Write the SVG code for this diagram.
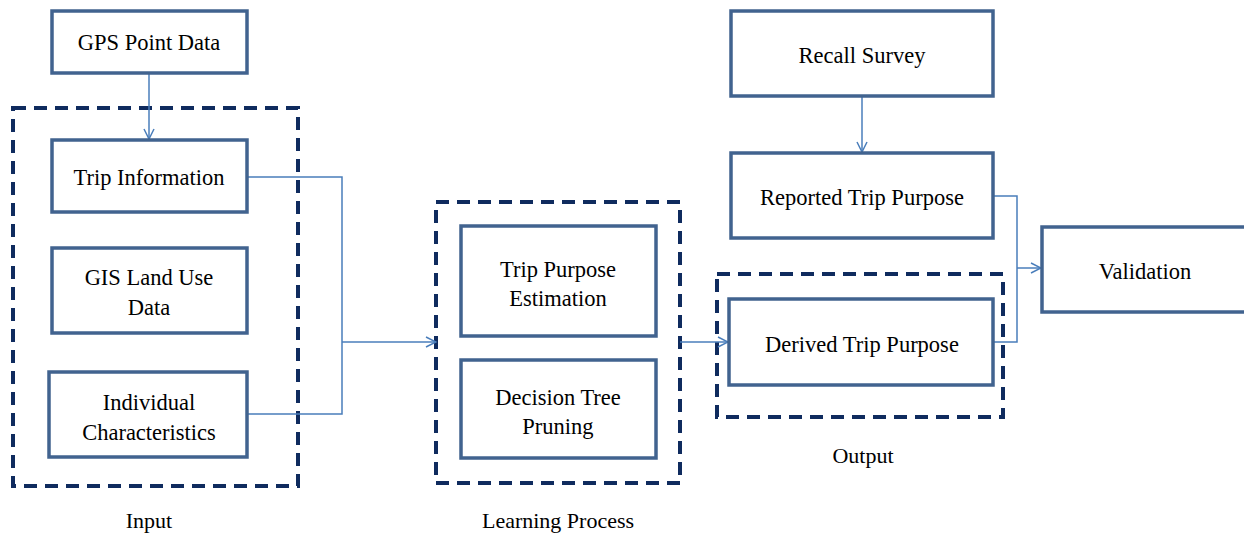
<svg xmlns="http://www.w3.org/2000/svg" width="1244" height="536" viewBox="0 0 1244 536">
<defs>
<marker id="arr" markerWidth="12" markerHeight="12" refX="11" refY="6" orient="auto" markerUnits="userSpaceOnUse">
<path d="M1,1 L11,6 L1,11" fill="none" stroke="#4a7ebb" stroke-width="1.5"/>
</marker>
<style>
.node{fill:#fff;stroke:#41638f;stroke-width:3.5}
.grp{fill:none;stroke:#0f2b5e;stroke-width:4;stroke-dasharray:13 8}
.conn{fill:none;stroke:#4a7ebb;stroke-width:1.5}
text{font-family:"Liberation Serif","Times New Roman",serif;font-size:22.5px;fill:#000;text-anchor:middle}
.lbl{font-size:22px}
</style>
</defs>
<rect width="1244" height="536" fill="#fff"/>
<g id="group-input">
<rect class="grp" x="13" y="108" width="285" height="378"/>
<text class="lbl" x="149" y="528">Input</text>
</g>
<g id="group-learning">
<rect class="grp" x="436" y="202" width="244" height="281"/>
<text class="lbl" x="558" y="528">Learning Process</text>
</g>
<g id="group-output">
<rect class="grp" x="717" y="274" width="286" height="143"/>
<text class="lbl" x="863" y="463">Output</text>
</g>
<g id="connectors">
<path class="conn" d="M149,73 V139" marker-end="url(#arr)"/>
<path class="conn" d="M247,177 H342 V414 H247"/>
<path class="conn" d="M342,342 H436" marker-end="url(#arr)"/>
<path class="conn" d="M680,342 H728" marker-end="url(#arr)"/>
<path class="conn" d="M862,96 V152" marker-end="url(#arr)"/>
<path class="conn" d="M993,196 H1017 V342 H993"/>
<path class="conn" d="M1017,268 H1041" marker-end="url(#arr)"/>
</g>
<g id="gps">
<rect class="node" x="52" y="11" width="195" height="62"/>
<text x="149" y="50">GPS Point Data</text>
</g>
<g id="trip-info">
<rect class="node" x="52" y="140" width="195" height="72"/>
<text x="149" y="185">Trip Information</text>
</g>
<g id="gis">
<rect class="node" x="52" y="248" width="195" height="85"/>
<text x="149" y="285">GIS Land Use</text>
<text x="149" y="315">Data</text>
</g>
<g id="individual">
<rect class="node" x="49" y="372" width="198" height="85"/>
<text x="149" y="410">Individual</text>
<text x="149" y="440">Characteristics</text>
</g>
<g id="estimation">
<rect class="node" x="461" y="226" width="195" height="110"/>
<text x="558" y="277">Trip Purpose</text>
<text x="558" y="306">Estimation</text>
</g>
<g id="pruning">
<rect class="node" x="461" y="360" width="195" height="98"/>
<text x="558" y="405">Decision Tree</text>
<text x="558" y="434">Pruning</text>
</g>
<g id="recall">
<rect class="node" x="731" y="11" width="262" height="85"/>
<text x="862" y="63">Recall Survey</text>
</g>
<g id="reported">
<rect class="node" x="731" y="153" width="262" height="85"/>
<text x="862" y="205">Reported Trip Purpose</text>
</g>
<g id="derived">
<rect class="node" x="729" y="299" width="264" height="86"/>
<text x="862" y="352">Derived Trip Purpose</text>
</g>
<g id="validation">
<rect class="node" x="1042" y="227" width="210" height="85"/>
<text x="1145" y="279">Validation</text>
</g>
</svg>
